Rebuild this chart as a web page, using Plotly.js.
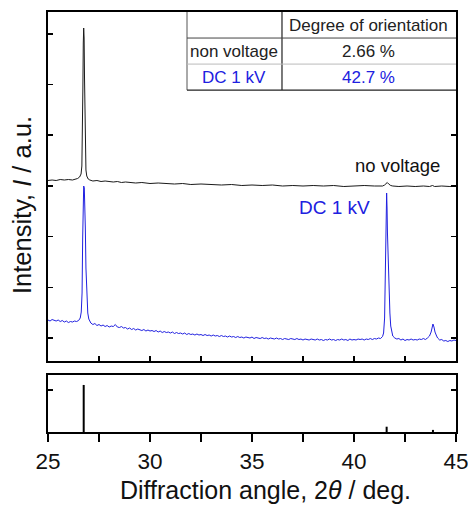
<!DOCTYPE html>
<html>
<head>
<meta charset="utf-8">
<script src="https://cdn.plot.ly/plotly-3.0.1.min.js"></script>
<style>html,body{margin:0;padding:0;background:#fff;}#chart{width:468px;height:505px;}</style>
</head>
<body>
<div id="chart"></div>
<script>
// ---- data (intensity in arbitrary units) ----
var noVoltageAngle = [25.0,25.2,25.4,25.6,25.8,26.0,26.2,26.35,26.45,26.55,26.62,26.66,26.69,26.71,26.73,26.75,26.77,26.79,26.81,26.83,26.86,26.9,26.97,27.05,27.2,27.4,27.6,27.8,28.0,28.2,28.4,28.6,28.8,29.0,29.3,29.6,30.0,30.4,30.8,31.2,31.6,32.0,32.5,33.0,33.5,34.0,34.5,35.0,35.5,36.0,36.5,37.0,37.5,38.0,38.5,39.0,39.5,40.0,40.5,41.0,41.4,41.5,41.58,41.63,41.7,41.8,41.9,42.2,42.6,43.0,43.4,43.7,43.85,43.95,44.3,44.7,45.0];
var noVoltageIntensity = [157.5,158,157.5,158.5,158,158.5,158,158.5,159.5,161,164,172,200,250,295,310,300,260,210,180,168,162,159,158,157,157.5,156.5,157,156.5,156,156.5,155.5,156,155.5,155,155.5,154.5,155,154.5,154,154.5,153.5,154,153.5,153,153.5,152.5,153,152.5,153,152,152.5,152,152.5,152,152.5,151.5,152,152.5,152,152,153,155,155.5,154,152.5,152,151.5,152,151.5,152,151.5,152.5,151.5,152,151.5,152];

var dcAngle = [25.0,25.1,25.2,25.3,25.4,25.5,25.6,25.7,25.8,25.9,26.0,26.1,26.2,26.3,26.4,26.5,26.58,26.63,26.67,26.70,26.72,26.75,26.78,26.8,26.83,26.86,26.9,26.95,27.0,27.05,
27.1,27.2,27.3,27.4,27.5,27.6,27.7,27.8,27.9,28.0,28.1,28.2,28.3,28.4,28.5,28.6,28.7,28.8,28.9,29.0,29.1,29.2,29.3,29.4,29.5,29.6,29.7,29.8,29.9,30.0,
30.1,30.2,30.3,30.4,30.5,30.6,30.7,30.8,30.9,31.0,31.1,31.2,31.3,31.4,31.5,31.6,31.7,31.8,31.9,32.0,32.1,32.2,32.3,32.4,32.5,32.6,32.7,32.8,32.9,33.0,
33.1,33.2,33.3,33.4,33.5,33.6,33.7,33.8,33.9,34.0,34.1,34.2,34.3,34.4,34.5,34.6,34.7,34.8,34.9,35.0,35.1,35.2,35.3,35.4,35.5,35.6,35.7,35.8,35.9,36.0,
36.1,36.2,36.3,36.4,36.5,36.6,36.7,36.8,36.9,37.0,37.1,37.2,37.3,37.4,37.5,37.6,37.7,37.8,37.9,38.0,38.1,38.2,38.3,38.4,38.5,38.6,38.7,38.8,38.9,39.0,
39.1,39.2,39.3,39.4,39.5,39.6,39.7,39.8,39.9,40.0,40.1,40.2,40.3,40.4,40.5,40.6,40.7,40.8,40.9,41.0,41.1,41.2,41.3,41.4,
41.45,41.5,41.54,41.57,41.6,41.62,41.64,41.66,41.68,41.7,41.73,41.76,41.8,41.85,41.9,
42.0,42.1,42.2,42.3,42.4,42.5,42.6,42.7,42.8,42.9,43.0,43.1,43.2,43.3,43.4,43.5,43.6,43.7,43.78,43.83,43.87,43.92,43.97,44.05,44.1,44.2,44.3,44.4,44.5,44.6,44.7,44.8,44.9,45.0];
var dcIntensity = [18,17,18.5,17.5,17,18,16.5,17.5,16,17,15.5,16.5,16,17,16.5,17.5,20,26,45,100,130,152,150,140,110,70,40,25,19,16,
15,13.5,14.5,12.5,13.5,12,13,11.5,12.5,11,12,11.5,13.5,11,10.5,11.5,10,10.5,9,10,8.5,9.5,8,9,8.5,7.5,8.5,7,8,7,
7.5,6.5,7.5,6,7,5.5,6.5,5.5,6,5,6,4.5,5.5,4.5,5,4,5,3.5,4.5,3.5,4,3,4,3,3.5,2.5,3.5,2.5,3,2,
3,2,2.5,1.5,2.5,1.5,2,1,2,1,1.5,0.5,1.5,0.5,1,0,1,0.5,0,1,-0.5,0.5,0,-0.5,0.5,-0.5,0,-1,0,-0.5,
-1,0,-1,-0.5,-1.5,-0.5,-1,-1.5,-0.5,-1,-1.5,-0.5,-1.5,-1,-2,-1,-1.5,-2,-1,-1.5,-2,-1,-2,-1.5,-2.5,-1.5,-2,-1,-2,-1.5,
-2.5,-1.5,-2,-1,-2,-1.5,-2.5,-1,-2,-1.5,-2,-1,-1.5,-1,-2,-1,-1.5,-0.5,-1.5,-0.5,-1,0,-0.5,1.5,
5,20,60,110,145,130,105,88,82,70,45,25,12,5,2,
0,-1,-0.5,-2,-1,-2.5,-1.5,-2,-1,-2,-1.5,-2,-1,-1.5,-0.5,-1.5,0,2,6,11,14,11,6,2,0,-2,-1.5,-3,-2.5,-3.5,-2.5,-3,-2,-2.5];

var refAngle = [26.75, 41.6, 43.87];
var refIntensity = [1.12, 0.126, 0.05];

var seriesLabels = ["no voltage", "DC 1 kV"];
var tableHeader = "Degree of orientation";
var tableRowNames = ["non voltage", "DC 1 kV"];
var tableOrientation = ["2.66 %", "42.7 %"];
var xTickValues = [25, 30, 35, 40, 45];
var xTitle = "Diffraction angle, 2<i>θ</i> / deg.";
var yTitle = "Intensity, <i>I</i> / a.u.";

// ---- build ----
var BLACK = "#1a1a1a", BLUE = "#2020e0";
var FONT = "Arial, 'Liberation Sans', sans-serif";

var stickX = [], stickY = [];
for (var i = 0; i < refAngle.length; i++) {
  stickX.push(refAngle[i], refAngle[i], null);
  stickY.push(0, refIntensity[i], null);
}

var traces = [
  {x: noVoltageAngle, y: noVoltageIntensity, type: "scatter", mode: "lines", name: seriesLabels[0],
   line: {color: BLACK, width: 1}, xaxis: "x2", yaxis: "y2", hoverinfo: "skip"},
  {x: dcAngle, y: dcIntensity, type: "scatter", mode: "lines", name: seriesLabels[1],
   line: {color: BLUE, width: 1}, xaxis: "x2", yaxis: "y2", hoverinfo: "skip"},
  {x: stickX, y: stickY, type: "scatter", mode: "lines", name: "reference",
   line: {color: "#000", width: 2}, xaxis: "x", yaxis: "y", hoverinfo: "skip"}
];

// table geometry (paper coords)
var tL = 0.3407, tC = 0.5735, tR = 1.0;
var rTop = 1.0, r1 = 0.938, r2 = 0.876, r3 = 0.814;
var shapes = [
  {type: "rect", xref: "paper", yref: "paper", x0: tL, x1: tR, y0: r3, y1: rTop, fillcolor: "#fff", line: {width: 0}, layer: "above"},
  {type: "line", xref: "paper", yref: "paper", x0: tL, x1: tL, y0: r3, y1: rTop, line: {color: "#555", width: 1}},
  {type: "line", xref: "paper", yref: "paper", x0: tC, x1: tC, y0: r3, y1: rTop, line: {color: "#222", width: 1.2}},
  {type: "line", xref: "paper", yref: "paper", x0: tL, x1: tR, y0: r1, y1: r1, line: {color: "#444", width: 1}},
  {type: "line", xref: "paper", yref: "paper", x0: tL, x1: tR, y0: r2, y1: r2, line: {color: "#bbb", width: 1}},
  {type: "line", xref: "paper", yref: "paper", x0: tL, x1: tR, y0: r3, y1: r3, line: {color: "#222", width: 1.2}}
];

var TS = 17;
var colNameX = (tL + tC) / 2, colValX = (tC + tR) / 2;
var rowY = [(r1 + r2) / 2, (r2 + r3) / 2];
var rowColors = ["#222", BLUE];
var annotations = [
  {xref: "paper", yref: "paper", x: colValX, y: (rTop + r1) / 2, text: tableHeader, showarrow: false,
   xanchor: "center", yanchor: "middle", font: {family: FONT, size: TS, color: "#222"}}
];
for (var r = 0; r < tableRowNames.length; r++) {
  annotations.push({xref: "paper", yref: "paper", x: colNameX, y: rowY[r], text: tableRowNames[r], showarrow: false,
    xanchor: "center", yanchor: "middle", font: {family: FONT, size: TS, color: rowColors[r]}});
  annotations.push({xref: "paper", yref: "paper", x: colValX, y: rowY[r], text: tableOrientation[r], showarrow: false,
    xanchor: "center", yanchor: "middle", font: {family: FONT, size: TS, color: rowColors[r]}});
}
annotations.push({xref: "paper", yref: "paper", x: 0.8566, y: 0.6357, text: seriesLabels[0], showarrow: false,
  xanchor: "center", yanchor: "middle", font: {family: FONT, size: 18.5, color: "#111"}});
annotations.push({xref: "paper", yref: "paper", x: 0.701, y: 0.5357, text: seriesLabels[1], showarrow: false,
  xanchor: "center", yanchor: "middle", font: {family: FONT, size: 19, color: BLUE}});
// axis titles
annotations.push({xref: "paper", yref: "paper", x: 0.534, y: -0.138, text: xTitle, showarrow: false,
  xanchor: "center", yanchor: "middle", font: {family: FONT, size: 25, color: "#111"}});
annotations.push({xref: "paper", yref: "paper", x: -0.064, y: 0.54, text: yTitle, showarrow: false, textangle: -90,
  xanchor: "center", yanchor: "middle", font: {family: FONT, size: 25.5, color: "#111"}});

var layout = {
  width: 468, height: 505,
  margin: {l: 48, r: 12, t: 12, b: 73},
  paper_bgcolor: "#fff", plot_bgcolor: "#fff",
  showlegend: false,
  font: {family: FONT, color: "#111"},
  xaxis: {
    domain: [0, 1], range: [25, 45], anchor: "y",
    tickmode: "array", tickvals: xTickValues, ticklabeloverflow: "allow",
    ticks: "outside", ticklen: 8, tickwidth: 1.5, tickcolor: "#000",
    minor: {tickmode: "array", tickvals: [27.5, 32.5, 37.5, 42.5], ticks: "outside", ticklen: 8, tickwidth: 1.5, tickcolor: "#000", showgrid: false},
    showline: true, linewidth: 2, linecolor: "#000", mirror: true,
    showgrid: false, zeroline: false,
    tickfont: {family: FONT, size: 22.5, color: "#111"}
  },
  yaxis: {
    domain: [0, 0.1357], range: [0, 1.357], anchor: "x",
    tick0: 0, dtick: 1, ticks: "inside", ticklen: 5, tickwidth: 1.5, tickcolor: "#000",
    showticklabels: false, showline: true, linewidth: 2, linecolor: "#000", mirror: "ticks",
    showgrid: false, zeroline: false
  },
  xaxis2: {
    domain: [0, 1], range: [25, 45], anchor: "y2", matches: "x",
    tick0: 25, dtick: 2.5, ticks: "inside", ticklen: 5, tickwidth: 1.5, tickcolor: "#000",
    showticklabels: false, showline: true, linewidth: 2, linecolor: "#000", mirror: true,
    showgrid: false, zeroline: false
  },
  yaxis2: {
    domain: [0.169, 1], range: [-23, 326], anchor: "x2",
    tick0: 0, dtick: 50.7, ticks: "inside", ticklen: 5, tickwidth: 1.5, tickcolor: "#000",
    showticklabels: false, showline: true, linewidth: 2, linecolor: "#000", mirror: "ticks",
    showgrid: false, zeroline: false
  },
  shapes: shapes,
  annotations: annotations
};

Plotly.newPlot("chart", traces, layout, {displayModeBar: false, staticPlot: true});
</script>
</body>
</html>
